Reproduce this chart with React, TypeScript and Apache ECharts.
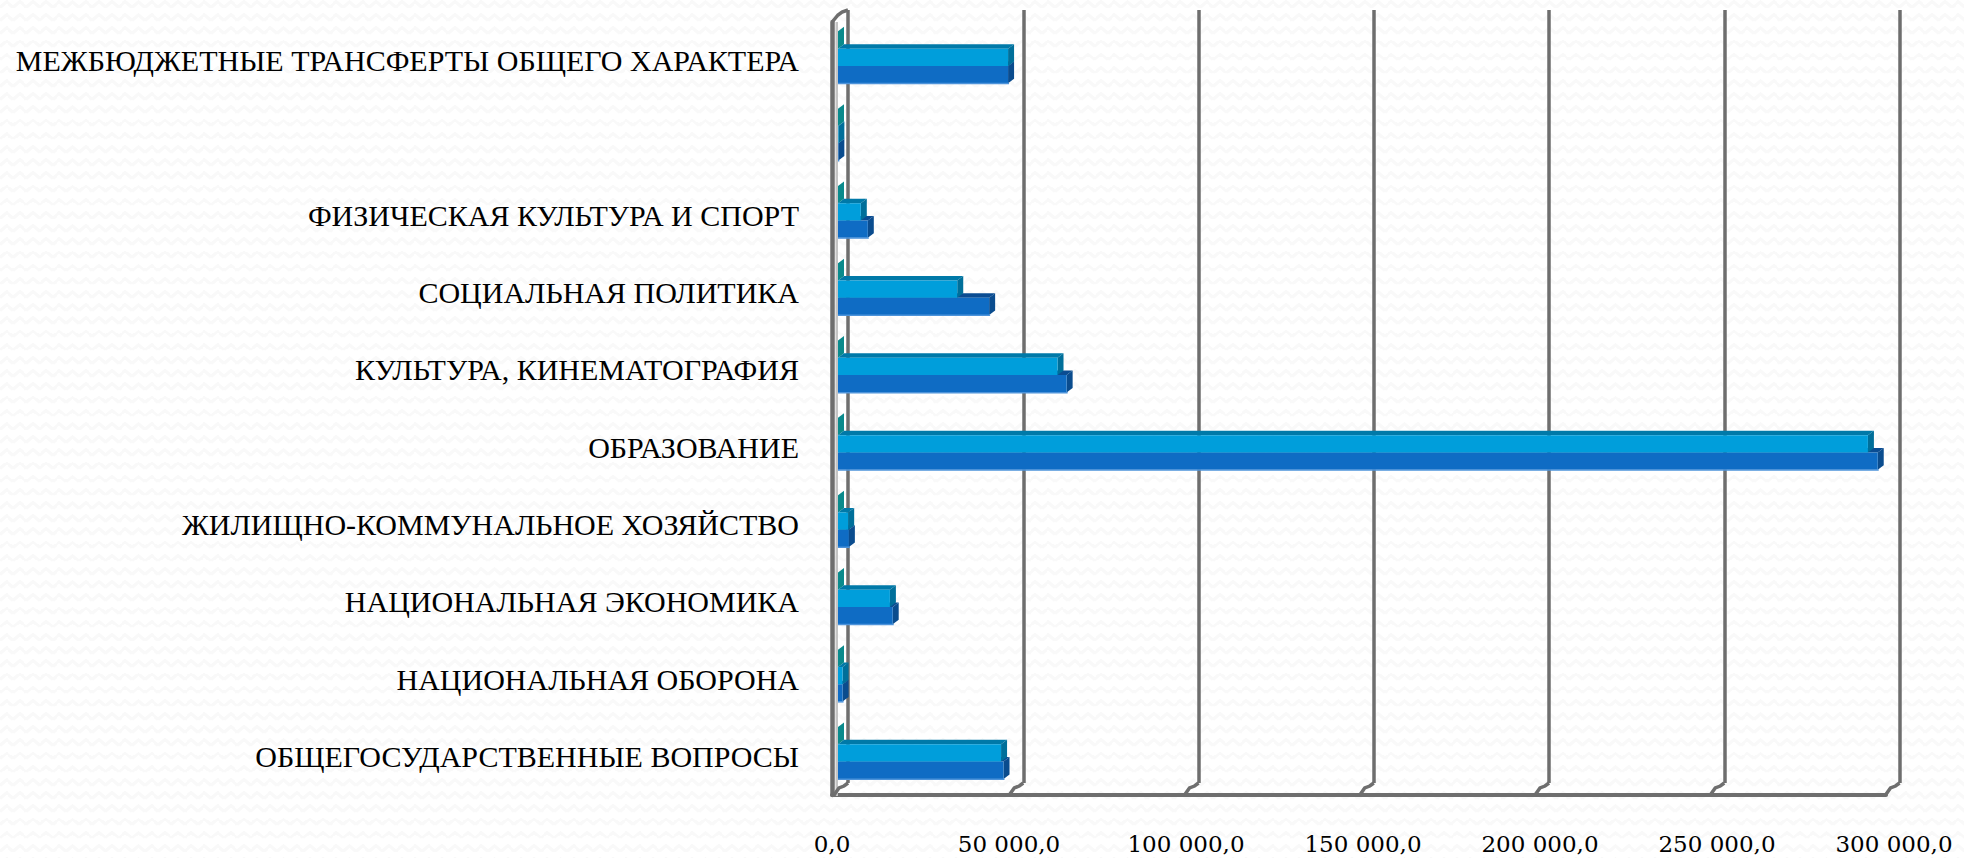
import React, { useEffect, useRef } from "react";
import * as echarts from "echarts";

const categories = [
  "ОБЩЕГОСУДАРСТВЕННЫЕ ВОПРОСЫ",
  "НАЦИОНАЛЬНАЯ ОБОРОНА",
  "НАЦИОНАЛЬНАЯ ЭКОНОМИКА",
  "ЖИЛИЩНО-КОММУНАЛЬНОЕ ХОЗЯЙСТВО",
  "ОБРАЗОВАНИЕ",
  "КУЛЬТУРА, КИНЕМАТОГРАФИЯ",
  "СОЦИАЛЬНАЯ ПОЛИТИКА",
  "ФИЗИЧЕСКАЯ КУЛЬТУРА И СПОРТ",
  "",
  "МЕЖБЮДЖЕТНЫЕ ТРАНСФЕРТЫ ОБЩЕГО ХАРАКТЕРА",
];
const tealValues = [0, 0, 0, 0, 0, 0, 0, 0, 0, 0];
const lightValues = [46500, 1300, 14800, 2900, 293700, 62600, 34000, 6500, 100, 48500];
const darkValues = [47200, 1300, 15600, 3100, 296500, 65200, 43100, 8500, 100, 48500];
const tickValues = [0, 50000, 100000, 150000, 200000, 250000, 300000];
const tickLabels = ["0,0", "50 000,0", "100 000,0", "150 000,0", "200 000,0", "250 000,0", "300 000,0"];

const GRID_GRAY = "#6e6e6e";
const FONT = "'Liberation Serif', serif";
const TICK_FONT = "'DejaVu Serif', serif";
const chevron =
  "url(\"data:image/svg+xml;utf8," +
  encodeURIComponent(
    "<svg xmlns='http://www.w3.org/2000/svg' width='13.2' height='13.2'><polyline points='0,7 6.6,1.5 13.2,7' fill='none' stroke='#f9f9f9' stroke-width='3'/></svg>"
  ) +
  "\")";

function barRenderer(slot: number, front: string, top: string, side: string, edge?: string) {
  return (params: any, api: any) => {
    const band = api.size([0, 1])[1];
    const h = band * 0.2235;
    const dx = 6;
    const dy = 4.5;
    const base = api.coord([0, api.value(1)]);
    const end = api.coord([api.value(0), api.value(1)]);
    const y0 = base[1] - band * 0.379 + slot * h;
    const y1 = y0 + h;
    const x0 = base[0];
    const x1 = end[0];
    const children: any[] = [
      {
        type: "polygon",
        shape: { points: [[x0, y0], [x0 + dx, y0 - dy], [x1 + dx, y0 - dy], [x1, y0]] },
        style: { fill: top },
      },
      {
        type: "polygon",
        shape: { points: [[x1, y0], [x1 + dx, y0 - dy], [x1 + dx, y1 - dy], [x1, y1]] },
        style: { fill: side },
      },
      { type: "rect", shape: { x: x0, y: y0, width: x1 - x0, height: h }, style: { fill: front } },
    ];
    if (edge) {
      children.push({
        type: "rect",
        shape: { x: x0, y: y1 - 0.5, width: x1 + 1 - x0, height: 1.5 },
        style: { fill: edge },
      });
    }
    return { type: "group", children };
  };
}

function connectorRenderer(params: any, api: any) {
  const p = api.coord([api.value(0), 0]);
  return {
    type: "polyline",
    shape: { points: [[p[0], p[1]], [p[0] - 4, p[1] + 3], [p[0] - 9, p[1] + 5], [p[0] - 14, p[1] + 12]] },
    style: { stroke: GRID_GRAY, lineWidth: 3.5, fill: "none" },
  };
}

function wallRenderer(params: any, api: any) {
  const t = api.coord([0, 1]);
  const b = api.coord([0, 0]);
  return {
    type: "group",
    children: [
      {
        type: "polyline",
        shape: { points: [[t[0], t[1]], [t[0] - 6, t[1] + 2], [t[0] - 10, t[1] + 5], [t[0] - 15, t[1] + 11]] },
        style: { stroke: GRID_GRAY, lineWidth: 3.5, fill: "none" },
      },
      {
        type: "rect",
        shape: { x: t[0] - 12.5, y: t[1] + 12, width: 2.5, height: b[1] - t[1] + 1 },
        style: { fill: "#c4c4c4" },
      },
    ],
  };
}

const indexed = (values: number[]) => values.map((v, i) => [v, i]);

export default function App() {
  const ref = useRef<HTMLDivElement>(null);
  useEffect(() => {
    document.body.style.margin = "0";
    const chart = echarts.init(ref.current!, null, { renderer: "svg" });
    const hiddenY = { show: false };
    const valueAxisBase = { type: "value", min: 0, max: 300000, interval: 50000 };
    chart.setOption({
      animation: false,
      backgroundColor: "transparent",
      grid: [
        { left: 848, top: 10, width: 1051.5, height: 773 },
        { left: 832, top: 22, width: 1054, height: 773 },
        { left: 838, top: 22, width: 1052, height: 773 },
        { left: 832, top: 22, width: 1062, height: 773 },
      ],
      xAxis: [
        {
          ...valueAxisBase,
          gridIndex: 0,
          axisLabel: { show: false },
          axisLine: { show: false },
          axisTick: { show: false },
          splitLine: { show: true, lineStyle: { color: GRID_GRAY, width: 3.5 } },
        },
        {
          ...valueAxisBase,
          gridIndex: 1,
          axisLabel: { show: false },
          axisTick: { show: false },
          splitLine: { show: false },
          axisLine: { show: true, lineStyle: { color: GRID_GRAY, width: 4 } },
        },
        {
          ...valueAxisBase,
          gridIndex: 2,
          show: false,
          splitLine: { show: false },
        },
        {
          ...valueAxisBase,
          gridIndex: 3,
          axisLine: { show: false },
          axisTick: { show: false },
          splitLine: { show: false },
          axisLabel: {
            show: true,
            margin: 37,
            color: "#000",
            fontFamily: TICK_FONT,
            fontSize: 23,
            formatter: (v: number) => tickLabels[tickValues.indexOf(v)],
          },
        },
      ],
      yAxis: [
        { type: "value", min: 0, max: 1, gridIndex: 0, ...hiddenY, splitLine: { show: false } },
        {
          type: "category",
          gridIndex: 1,
          data: categories,
          axisTick: { show: false },
          axisLine: { show: true, lineStyle: { color: GRID_GRAY, width: 4.5 } },
          splitLine: { show: false },
          axisLabel: {
            show: true,
            interval: 0,
            margin: 33,
            color: "#000",
            fontFamily: FONT,
            fontSize: 30,
            align: "right",
          },
        },
        { type: "category", gridIndex: 2, data: categories, ...hiddenY },
        { type: "value", min: 0, max: 1, gridIndex: 3, ...hiddenY, splitLine: { show: false } },
      ],
      series: [
        {
          type: "custom",
          xAxisIndex: 0,
          yAxisIndex: 0,
          silent: true,
          data: [[0, 1]],
          encode: { x: 0, y: 1 },
          renderItem: wallRenderer,
          z: 2,
        },
        {
          type: "custom",
          xAxisIndex: 0,
          yAxisIndex: 0,
          silent: true,
          data: tickValues.map((v) => [v, 0]),
          encode: { x: 0, y: 1 },
          renderItem: connectorRenderer,
          z: 2,
        },
        {
          type: "custom",
          xAxisIndex: 2,
          yAxisIndex: 2,
          silent: true,
          data: indexed(tealValues),
          encode: { x: 0, y: 1 },
          renderItem: barRenderer(0, "#0a8a8c", "#0a8a8c", "#0a8a8c"),
          z: 3,
        },
        {
          type: "custom",
          xAxisIndex: 2,
          yAxisIndex: 2,
          silent: true,
          data: indexed(darkValues),
          encode: { x: 0, y: 1 },
          renderItem: barRenderer(2, "#0f6cc4", "#0a4c92", "#0a4c8e", "#4d93da"),
          z: 4,
        },
        {
          type: "custom",
          xAxisIndex: 2,
          yAxisIndex: 2,
          silent: true,
          data: indexed(lightValues),
          encode: { x: 0, y: 1 },
          renderItem: barRenderer(1, "#009edb", "#0079a8", "#006f9a"),
          z: 5,
        },
      ],
    });
    return () => chart.dispose();
  }, []);
  return (
    <div
      style={{
        position: "absolute",
        left: 0,
        top: 0,
        width: 1964,
        height: 858,
        overflow: "hidden",
        backgroundColor: "#fff",
        backgroundImage: chevron,
        backgroundSize: "13.2px 13.2px",
      }}
    >
      <div ref={ref} style={{ width: 1964, height: 858 }} />
    </div>
  );
}
